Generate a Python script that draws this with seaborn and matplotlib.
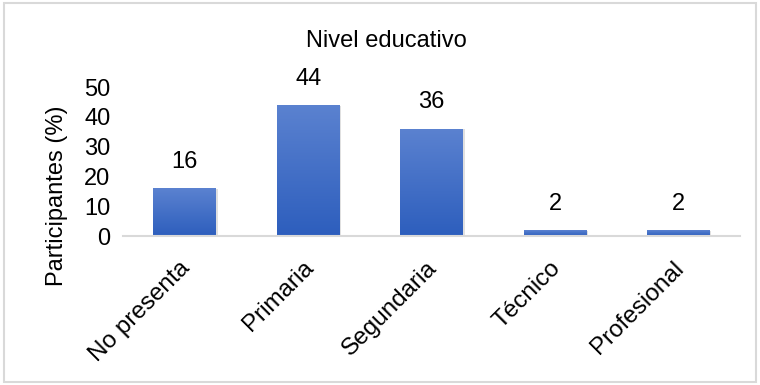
import numpy as np
import pandas as pd
import matplotlib
matplotlib.use("Agg")
import matplotlib.pyplot as plt
import matplotlib.transforms as mtransforms
import seaborn as sns
from matplotlib.colors import LinearSegmentedColormap
from matplotlib.patches import Rectangle

categories = ["No presenta", "Primaria", "Segundaria", "Técnico", "Profesional"]
values = [16, 44, 36, 2, 2]
yticks = [0, 10, 20, 30, 40, 50]
title = "Nivel educativo"
ylabel = "Participantes (%)"

sns.set_theme(style="white")
plt.rcParams['font.family'] = ['Liberation Sans', 'DejaVu Sans']

df = pd.DataFrame({"cat": categories, "val": values})

fig = plt.figure(figsize=(7.6, 3.85), dpi=100)
ax = fig.add_axes([0.162, 0.387, 0.812, 0.387])
sns.barplot(data=df, x="cat", y="val", ax=ax, color="#3a68c6", width=0.51,
            saturation=1, edgecolor="none")

# gradient fill for bars
cmap = LinearSegmentedColormap.from_list("g", ["#2d5ebd", "#5b82d0"])
grad = np.linspace(0, 1, 256).reshape(-1, 1)
for p in ax.patches:
    x0, y0 = p.get_x(), p.get_y()
    w, h = p.get_width(), p.get_height()
    sh = Rectangle((x0 + 0.012, y0), w, h - 0.25 if h > 0.5 else h,
                   facecolor="#000000", alpha=0.12, edgecolor="none", zorder=1.5)
    ax.add_patch(sh)
    im = ax.imshow(grad, extent=[x0, x0 + w, y0, y0 + h], origin="lower",
                   cmap=cmap, aspect="auto", zorder=2)
    im.set_clip_path(p)
    p.set_zorder(2)

ax.set_xlim(-0.5, len(categories) - 0.5)
ax.set_ylim(0, 50)
ax.set_yticks(yticks)
ax.set_yticklabels([str(t) for t in yticks], fontsize=17, color="#000000")

for i, v in enumerate(values):
    ax.annotate(str(v), (i, v), xytext=(0, 11), textcoords="offset points",
                ha="center", va="bottom", fontsize=17, color="#000000")

ax.set_xticks(range(len(categories)))
ax.set_xticklabels(categories, rotation=45, ha="right", rotation_mode="anchor",
                   fontsize=17.5, color="#000000")
ax.tick_params(axis="x", length=0, pad=15)
ax.tick_params(axis="y", length=0, pad=9)
shift = mtransforms.ScaledTranslation(-0.06, 0, fig.dpi_scale_trans)
for lbl in ax.get_xticklabels():
    lbl.set_transform(lbl.get_transform() + shift)

ax.set_xlabel("")
ax.set_ylabel(ylabel, fontsize=17, color="#000000")
ax.yaxis.set_label_coords(-0.09, 0.27)

for s in ["top", "right", "left"]:
    ax.spines[s].set_visible(False)
ax.spines["bottom"].set_color("#d9d9d9")
ax.spines["bottom"].set_linewidth(1.5)
ax.spines["bottom"].set_zorder(3)

fig.text(0.508, 0.893, title, ha="center", va="center", fontsize=17, color="#000000")

fig.add_artist(Rectangle((0.005, 0.008), 0.99, 0.984, transform=fig.transFigure,
                         fill=False, edgecolor="#d9d9d9", linewidth=1.5))

fig.savefig("out.png", dpi=100, facecolor="white")
